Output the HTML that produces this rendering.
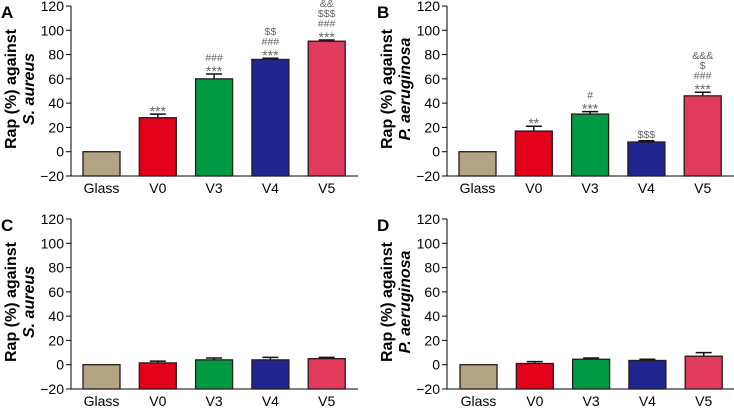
<!DOCTYPE html>
<html><head><meta charset="utf-8"><style>
body{margin:0;background:#fff;width:734px;height:408px;overflow:hidden}
svg{font-family:"Liberation Sans",Arial,sans-serif}
</style></head><body>
<svg id="c" width="734" height="408"></svg>
<script>
const categories=["Glass","V0","V3","V4","V5"];
const yTicks=[-20,0,20,40,60,80,100,120];
const valuesA=[0,28,60,76,91];
const errorsA=[0,3,4,1,1];
const valuesB=[0,17,31,8,46];
const errorsB=[0,4,2,1,3];
const valuesC=[0,1.5,4,4,5];
const errorsC=[0,1.5,1.5,2,1];
const valuesD=[0,1,4.5,3.5,7];
const errorsD=[0,1.5,1,1,3];
const annotA=[[],["***"],["***","###"],["***","###","$$"],["***","###","$$$","&&"]];
const annotB=[[],["**"],["***","#"],["$$$"],["***","###","$","&&&"]];
const colors=["#b1a584","#e3001b","#009a44","#1f2690","#e23b5c"];
const NS="http://www.w3.org/2000/svg";
const svg=document.getElementById('c');
function mk(t,a,p){const e=document.createElementNS(NS,t);for(const k in a)e.setAttribute(k,a[k]);(p||svg).appendChild(e);return e;}
function panel(id,letter,ax,top,bot,x0,vals,errs,ann,org){
 const g=mk('g',{});
 
 
 const y=v=>bot-(v+20)/140*(bot-top);
 const xr=ax+287;
 const bw=37,step=56.3;
 const L=mk('text',{x:ax-70,y:top+12,'font-size':17,'font-weight':'bold'},g);L.textContent=letter;
 
 const yl=mk('text',{transform:`translate(${ax-55},${(top+bot)/2-2}) rotate(-90)`,'text-anchor':'middle','font-size':16,'font-weight':'bold'},g);
 
 const t1=mk('tspan',{x:0,y:0},yl);t1.textContent='Rap (%) against';
 const t2=mk('tspan',{x:0,y:18},yl);const i=mk('tspan',{'font-style':'italic'},t2);i.textContent=org;
 const ya=mk('line',{x1:ax,x2:ax,y1:top,y2:bot,stroke:'#000','stroke-width':1},g);
 
 yTicks.forEach(t=>{mk('line',{x1:ax-5,x2:ax,y1:y(t),y2:y(t),stroke:'#000'},g);
  const tx=mk('text',{x:ax-7,y:y(t)+5,'text-anchor':'end','font-size':14},g);tx.textContent=(t<0?'\u2212'+(-t):t);
  });
 const xa=mk('line',{x1:ax,x2:xr,y1:bot,y2:bot,stroke:'#000'},g);
 
 vals.forEach((v,k)=>{
  const bx=x0+k*step;
  const yt=y(v),yb=bot;
  const e=errs[k];
  if(e>0){mk('line',{x1:bx+bw/2,x2:bx+bw/2,y1:y(v+e),y2:yt,stroke:'#111','stroke-width':1.5},g);
   mk('line',{x1:bx+bw/2-8,x2:bx+bw/2+8,y1:y(v+e),y2:y(v+e),stroke:'#111','stroke-width':1.5},g);}
  const r=mk('rect',{x:bx,y:yt,width:bw,height:yb-yt,fill:colors[k],stroke:'#2a1a1a','stroke-width':1.3},g);
  
  const xl=mk('text',{x:bx+bw/2,y:bot+17,'text-anchor':'middle','font-size':14},g);xl.textContent=categories[k];
  
  if(ann){ann[k].forEach((s,j)=>{const a=mk('text',{x:bx+bw/2,y:y(v+e)-3-j*10+(s.indexOf('*')>=0?5:0),'text-anchor':'middle','font-size':s.indexOf('*')>=0?14:10.5,fill:'#666'},g);a.textContent=s;
   });}
 });
}
panel('a','A',71,6,176,83,valuesA,errorsA,annotA,'S. aureus');
panel('b','B',447,6,176,459,valuesB,errorsB,annotB,'P. aeruginosa');
panel('c','C',71,219,389,83,valuesC,errorsC,null,'S. aureus');
panel('d','D',447,219,389,460,valuesD,errorsD,null,'P. aeruginosa');
</script>
</body></html>
